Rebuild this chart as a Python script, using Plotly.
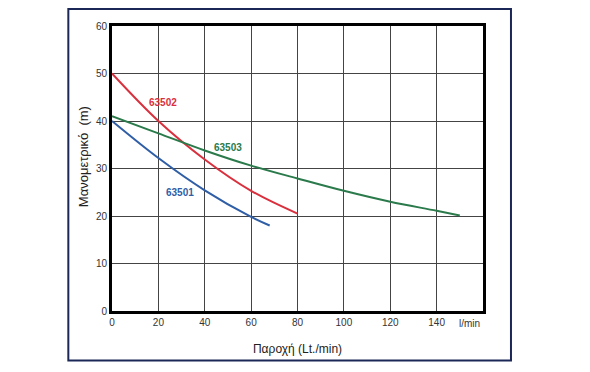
import plotly.graph_objects as go

# Data
x_63501 = [0, 20, 40, 60, 68]
y_63501 = [40.0, 32.2, 25.4, 19.8, 18.0]

x_63502 = [0, 20, 40, 60, 80]
y_63502 = [50.0, 40.0, 31.9, 25.3, 20.5]

x_63503 = [0, 20, 40, 60, 80, 100, 120, 140, 150]
y_63503 = [41.0, 37.4, 33.8, 30.6, 27.9, 25.3, 23.0, 21.1, 20.1]

series_names = ["63501", "63502", "63503"]
series_colors = ["#2f5ea6", "#d9303e", "#2b7a4b"]
label_pos = [(29.5, 24.9), (22, 44), (50, 34.5)]

x_ticks = [0, 20, 40, 60, 80, 100, 120, 140]
y_ticks = [0, 10, 20, 30, 40, 50, 60]

fig = go.Figure()
for (xs, ys), name, col, (lx, ly) in zip(
    [(x_63501, y_63501), (x_63502, y_63502), (x_63503, y_63503)],
    series_names, series_colors, label_pos):
    fig.add_trace(go.Scatter(x=xs, y=ys, mode="lines", name=name,
                             line=dict(color=col, width=2, shape="spline", smoothing=1.0),
                             showlegend=False, hoverinfo="skip"))
    fig.add_annotation(x=lx, y=ly, text="<b>%s</b>" % name, showarrow=False,
                       font=dict(color=col, size=10, family="Liberation Sans, Arial"))

fig.add_annotation(x=160, y=0, yref="y", text="l/min", showarrow=False,
                   xanchor="right", yanchor="top", yshift=-5, xshift=-1,
                   font=dict(color="#333", size=10, family="Liberation Sans, Arial"))

# y-axis title (placed slightly above the plot centre as in the reference)
fig.add_annotation(xref="paper", yref="paper", x=-0.078, y=0.54,
                   text="Μανομετρικό  (m)", textangle=-90, showarrow=False,
                   xanchor="center", yanchor="middle",
                   font=dict(size=13, color="#222", family="Liberation Sans, Arial"))

# outer frame
fig.add_shape(type="rect", xref="paper", yref="paper",
              x0=-0.1177, x1=1.0754, y0=-0.174, y1=1.060,
              line=dict(color="#1b2757", width=2), fillcolor="rgba(0,0,0,0)",
              layer="below")

axis_common = dict(showgrid=True, gridcolor="#444", gridwidth=1,
                   showline=True, linecolor="black", linewidth=3, mirror=True,
                   zeroline=False, ticks="", tickfont=dict(size=10, color="#333"),
                   fixedrange=True)

fig.update_xaxes(range=[0, 160], tickvals=x_ticks, ticktext=[str(v) for v in x_ticks],
                 title=dict(text="Παροχή (Lt./min)", font=dict(size=12, color="#222"), standoff=18),
                 **axis_common)
fig.update_yaxes(range=[0, 60], tickvals=y_ticks, **axis_common)

# page body has a default 8px margin; size the figure so it fits the 590x372 window
fig.update_layout(width=582, height=364,
                  margin=dict(l=104, r=107, t=16, b=61),
                  paper_bgcolor="white", plot_bgcolor="white",
                  font=dict(family="Liberation Sans, Arial, sans-serif"))

fig.write_html("out.html")
